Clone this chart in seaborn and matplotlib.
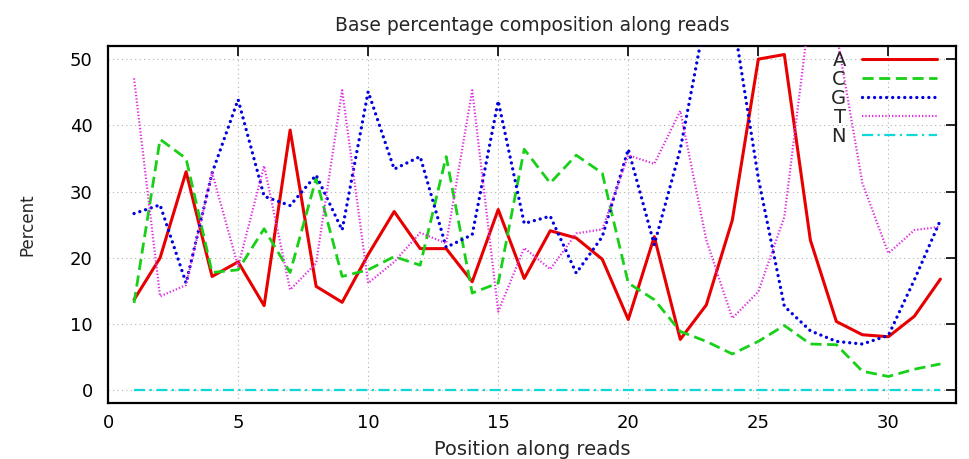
import matplotlib
matplotlib.use("Agg")
import matplotlib.pyplot as plt
import seaborn as sns
import pandas as pd

positions = list(range(1, 33))
base_a = [13.7, 20.0, 33.0, 17.2, 19.4, 12.8, 39.3, 15.7, 13.3, 20.5,
          27.0, 21.4, 21.4, 16.4, 27.3, 16.9, 24.1, 23.0, 19.8, 10.7,
          23.2, 7.7, 12.9, 25.7, 50.0, 50.7, 22.7, 10.4, 8.4, 8.1,
          11.2, 16.8]
base_c = [13.2, 37.9, 35.0, 17.8, 18.2, 24.4, 17.8, 32.0, 17.2, 18.2,
          20.2, 18.9, 35.3, 14.7, 16.2, 36.4, 31.3, 35.5, 32.8, 16.2,
          13.7, 8.9, 7.4, 5.5, 7.4, 9.8, 7.0, 6.9, 2.9, 2.1,
          3.2, 4.0]
base_g = [26.7, 28.0, 16.2, 32.8, 43.9, 29.3, 27.9, 32.5, 24.2, 45.1,
          33.4, 35.3, 21.6, 23.5, 43.7, 25.2, 26.3, 17.7, 23.2, 36.4,
          22.0, 36.4, 57.0, 57.0, 32.0, 12.7, 9.0, 7.4, 7.0, 8.3,
          16.7, 25.7]
base_t = [47.1, 14.2, 15.9, 32.9, 18.7, 33.9, 15.2, 19.2, 45.3, 16.2,
          19.4, 23.8, 22.2, 45.3, 11.9, 21.5, 18.3, 23.7, 24.3, 35.5,
          34.2, 42.2, 22.7, 10.9, 14.9, 26.2, 58.0, 54.0, 31.3, 20.7,
          24.2, 24.7]
base_n = [0.0] * 32

series_names = ["A", "C", "G", "T", "N"]
series_values = [base_a, base_c, base_g, base_t, base_n]

x_ticks = [0, 5, 10, 15, 20, 25, 30]
y_ticks = [0, 10, 20, 30, 40, 50]

colors = ["#e80000", "#18d018", "#0000e0", "#e030e0", "#10d8d8"]
styles = ["-", (0, (4.0, 2.0)), (0, (0.01, 1.8)), (0, (0.6, 0.9)), (0, (5, 2, 1, 2))]
widths = [2.2, 2.0, 2.4, 1.6, 1.6]
caps = ["butt", "butt", "round", "butt", "butt"]

sns.set_style("white")
plt.rcParams["font.family"] = ["DejaVu Sans"]

fig = plt.figure(figsize=(9.69, 4.59), dpi=100)
ax = fig.add_axes([0.1115, 0.122, 0.8751, 0.778])

for name, vals, c, ls, lw, cp in zip(series_names, series_values, colors, styles, widths, caps):
    df = pd.DataFrame({"pos": positions, "pct": vals})
    sns.lineplot(data=df, x="pos", y="pct", ax=ax, color=c, linestyle=ls,
                 linewidth=lw, label=name, zorder=3, dash_capstyle=cp)

ax.set_xlim(0, 32.6)
ax.set_ylim(-1.9, 52)
ax.set_xticks(x_ticks)
ax.set_yticks(y_ticks)
ax.tick_params(axis="both", direction="in", length=7, width=1.2,
               top=True, right=True, labelsize=13, colors="black")
ax.tick_params(axis="x", pad=8)
ax.tick_params(axis="y", pad=11)
ax.grid(True, linestyle=(0, (1, 3)), color="#b0b0b0", linewidth=0.8, zorder=0)
for sp in ax.spines.values():
    sp.set_visible(True)
    sp.set_color("black")
    sp.set_linewidth(1.6)

ax.set_title("Base percentage composition along reads", fontsize=13.5, pad=11)
ax.set_xlabel("Position along reads", fontsize=14, labelpad=6)
ax.set_ylabel("Percent", fontsize=12, labelpad=24)

leg = ax.legend(loc="upper right", bbox_to_anchor=(0.978, 0.985), markerfirst=False,
                frameon=False, fontsize=14, handlelength=3.9, handletextpad=0.8,
                labelspacing=0.0, borderpad=0, borderaxespad=0)

fig.savefig("out.png", dpi=100)
